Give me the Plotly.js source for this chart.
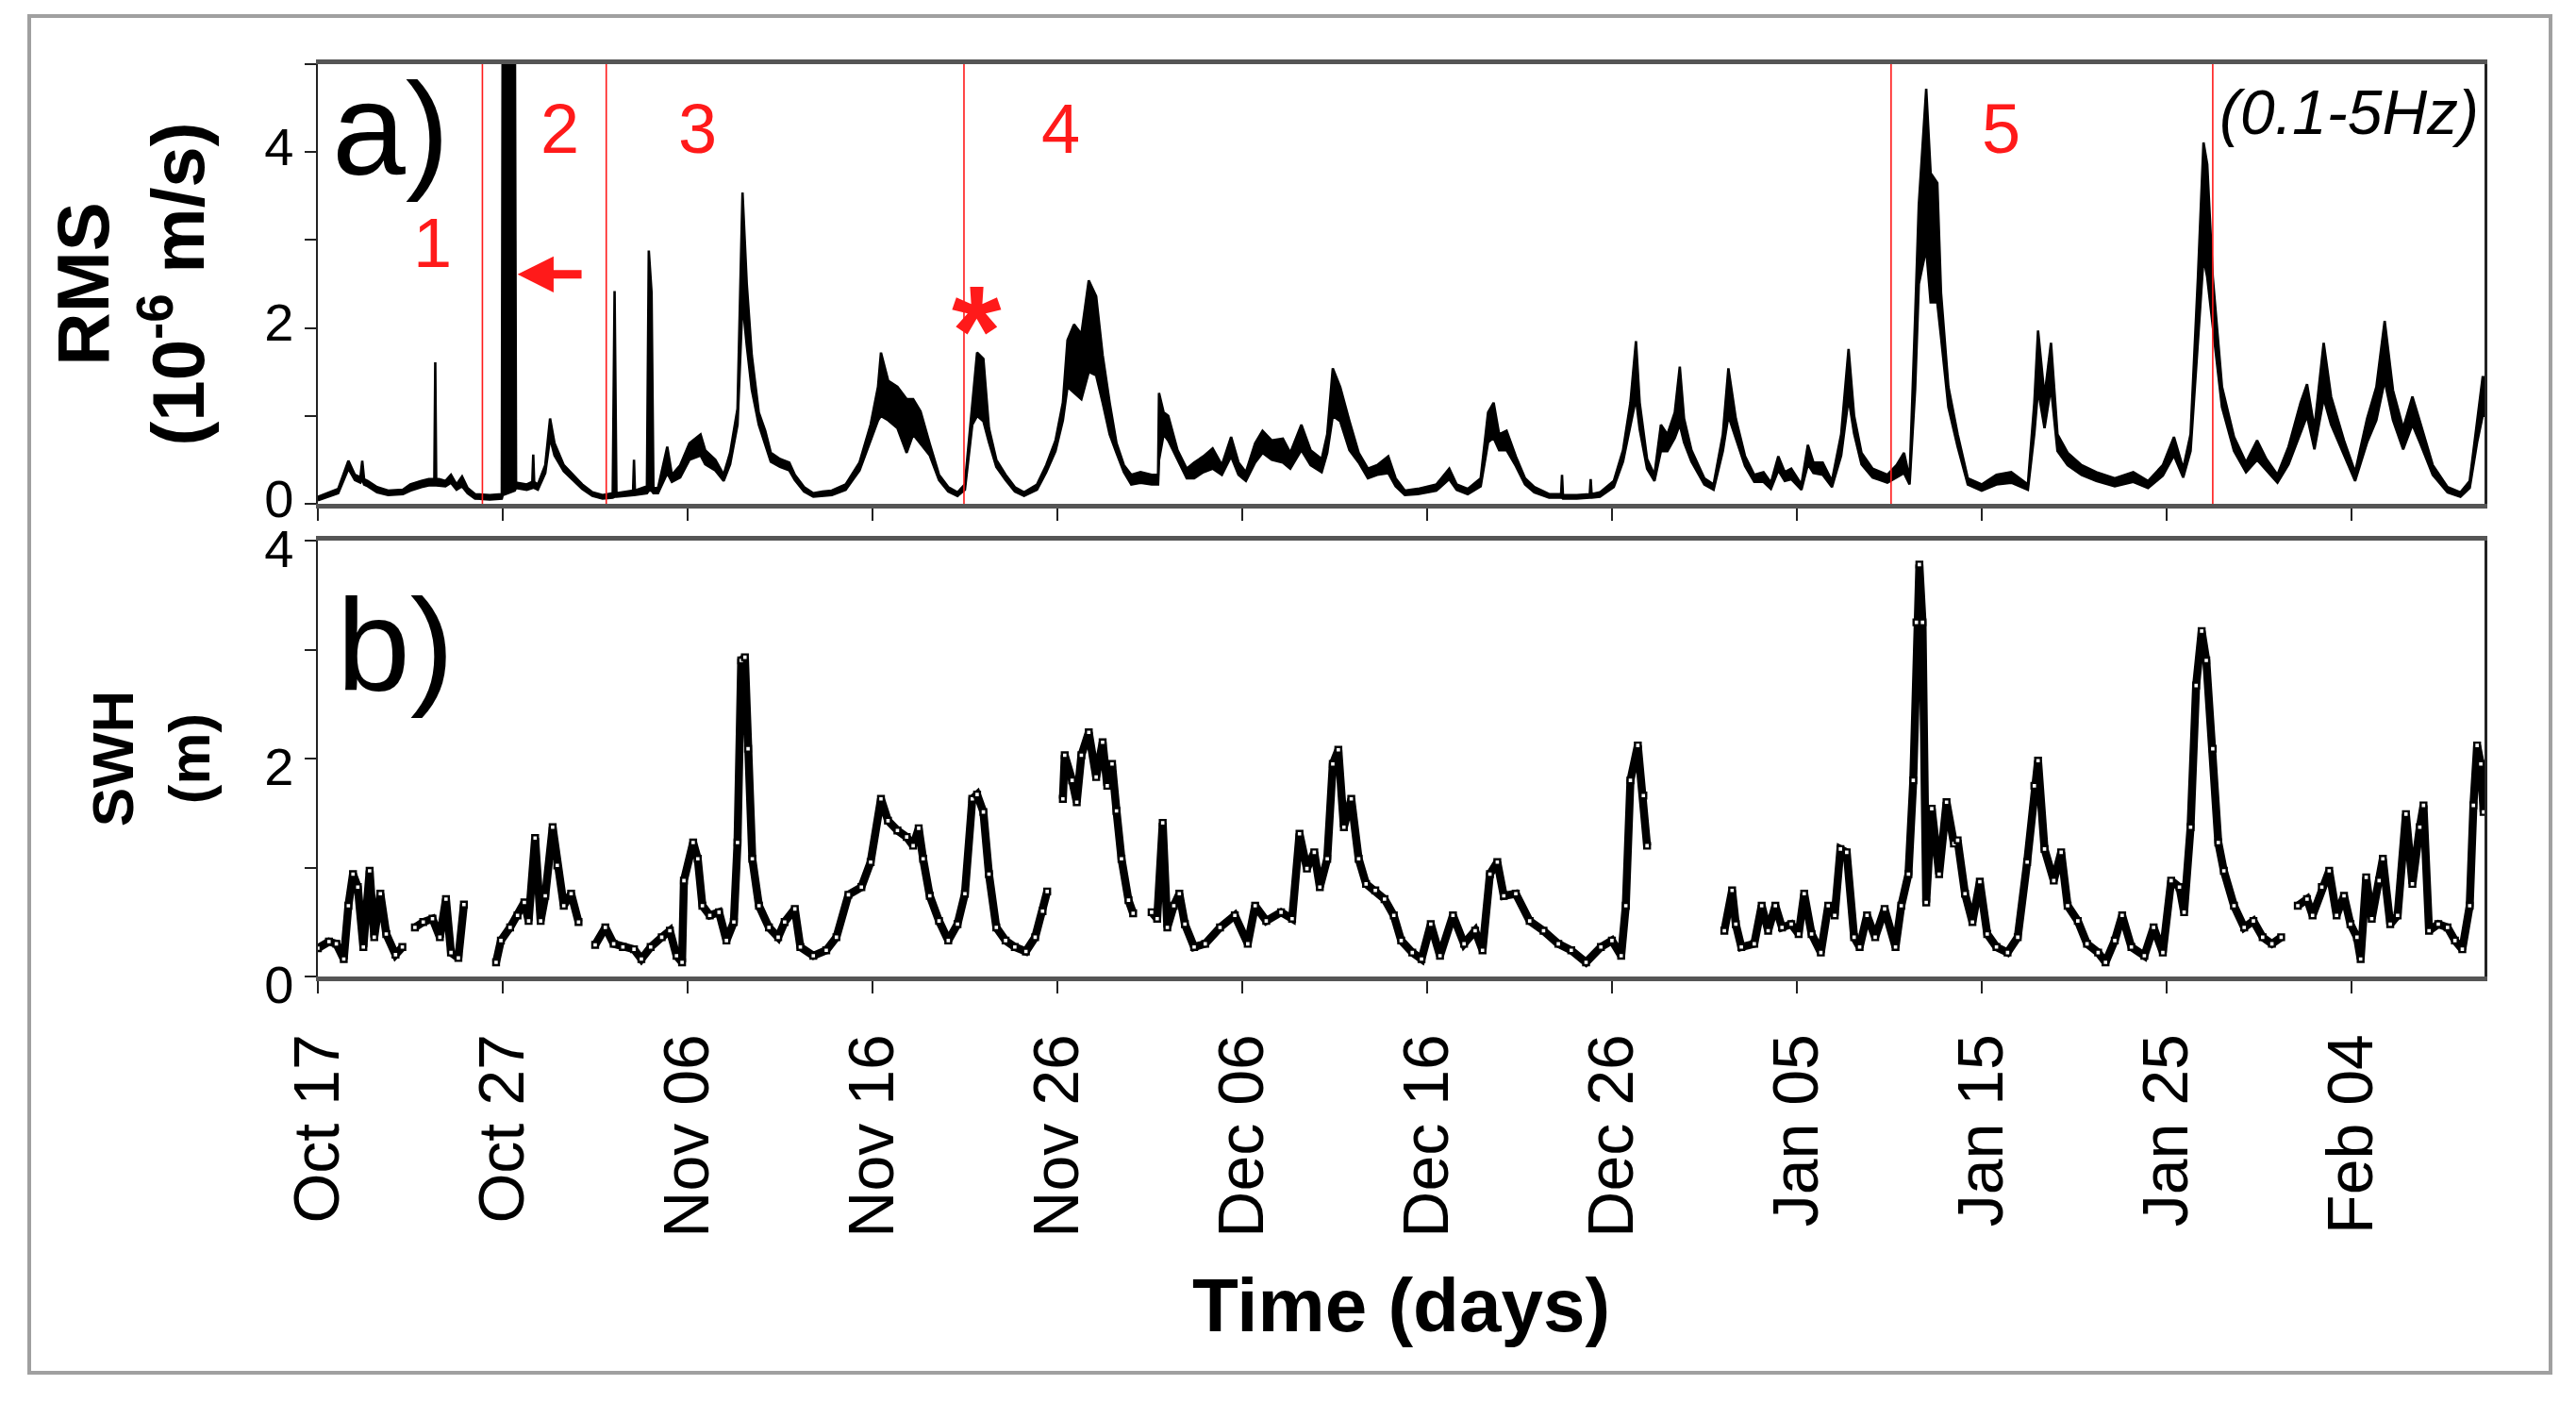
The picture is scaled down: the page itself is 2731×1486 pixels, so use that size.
<!DOCTYPE html>
<html>
<head>
<meta charset="utf-8">
<script src="https://cdn.plot.ly/plotly-3.0.1.min.js"></script>
<style>
  html, body { margin: 0; padding: 0; background: #ffffff; }
  #chart { width: 2731px; height: 1486px; }
</style>
</head>
<body>
<div id="chart"></div>
<script>
// ---------------- DATA (days counted from Oct 17) ----------------
const startDate = "2011-10-17";

// Panel a) RMS (10^-6 m/s), 0.1-5 Hz: upper / lower envelope of the dense trace
const rmsDays = [0.0,0.4,1.1,1.65,2.0,2.3,2.4,2.5,2.7,3.2,3.8,4.6,5.0,5.6,6.0,6.3,6.35,6.4,6.9,7.2,7.5,7.8,8.1,8.5,9.3,9.95,
  10.0,10.65,10.72,11.3,11.6,11.65,11.7,11.9,12.3,12.56,12.8,13.3,13.8,14.3,14.85,15.4,15.95,16.05,16.15,16.8,17.05,17.1,17.15,17.8,
  17.9,18.05,18.15,18.4,18.9,19.15,19.6,20.1,20.7,20.95,21.5,21.95,22.3,22.7,22.97,23.2,23.47,23.85,24.2,24.5,25.0,25.5,25.8,26.3,
  26.8,27.3,27.8,28.55,29.3,29.9,30.3,30.46,30.85,31.35,31.85,32.2,32.6,33.1,33.6,34.1,34.6,35.0,35.4,35.66,36.0,36.3,36.7,37.2,
  37.7,38.2,38.9,39.4,39.9,40.3,40.55,40.9,41.3,41.7,42.1,42.45,42.83,43.2,43.6,44.0,44.5,45.1,45.45,45.5,45.75,46.0,46.5,47.0,
  47.4,47.9,48.4,48.9,49.4,49.8,50.2,50.7,51.1,51.6,52.2,52.6,53.2,53.7,54.3,54.6,54.9,55.3,55.8,56.3,56.8,57.3,57.9,58.3,58.8,
  59.5,60.5,61.2,61.6,62.2,62.9,63.3,63.6,63.9,64.3,64.8,65.3,65.8,66.6,67.25,67.3,67.35,68.1,68.8,68.85,68.9,69.35,70.1,70.6,
  71.0,71.3,71.5,71.9,72.3,72.65,73.0,73.4,73.67,73.9,74.3,75.0,75.5,76.0,76.3,76.7,77.2,77.7,78.2,78.6,79.0,79.35,79.7,80.25,
  80.6,80.9,81.4,81.9,82.4,82.8,83.1,83.5,84.1,84.9,85.4,85.8,86.1,86.4,86.6,87.0,87.24,87.6,87.8,88.2,88.7,89.25,90.0,90.8,
  91.6,92.5,92.85,93.05,93.4,93.75,94.1,94.65,95.4,96.2,97.2,98.2,99.0,99.8,100.4,100.9,101.3,101.7,102.0,102.2,102.5,103.0,
  103.65,104.3,104.9,105.4,106.0,106.6,107.25,107.6,108.0,108.5,108.9,109.6,110.2,110.85,111.35,111.8,112.25,112.8,113.3,113.7,
  114.4,115.2,115.9,116.4,116.8,117.1,117.3];
const rmsUpper = [.08,.11,.17,.49,.33,.30,.49,.28,.26,.19,.15,.16,.22,.26,.28,.28,1.61,.29,.26,.33,.22,.31,.18,.11,.10,.11,
  6,6,.24,.22,.25,.56,.25,.22,.44,.97,.69,.44,.33,.22,.13,.10,.12,2.42,.12,.14,.15,.50,.15,.20,
  2.88,2.4,.18,.18,.65,.33,.44,.69,.79,.61,.50,.33,.58,1.08,3.54,2.5,1.69,1.04,.83,.58,.51,.47,.33,.19,
  .12,.14,.15,.22,.47,.90,1.33,1.72,1.40,1.33,1.19,1.19,1.05,.68,.33,.19,.13,.22,1.15,1.72,1.65,.86,.50,.33,
  .19,.13,.22,.44,.72,1.15,1.86,2.04,1.93,2.54,2.36,1.69,1.15,.69,.44,.33,.36,.33,.33,1.26,1.04,1.00,.61,.40,
  .47,.54,.63,.44,.76,.47,.36,.69,.83,.72,.74,.58,.90,.61,.51,.79,1.54,1.33,.94,.58,.40,.44,.54,.29,.15,
  .17,.22,.40,.22,.17,.29,1.04,1.15,.79,.83,.54,.29,.19,.11,.11,.33,.10,.10,.11,.28,.11,.13,.26,.61,
  1.15,1.85,1.15,.51,.33,.90,.79,1.04,1.56,.97,.61,.29,.22,.79,1.54,.97,.54,.33,.36,.24,.54,.36,.40,.22,
  .67,.47,.47,.26,.79,1.76,1.00,.58,.40,.33,.44,.58,.29,2.11,3.40,4.72,3.76,3.65,2.40,1.33,.79,.29,.22,.33,
  .36,.22,1.15,1.97,1.22,1.83,.79,.58,.44,.36,.29,.36,.26,.44,.76,.40,.79,2.58,4.11,3.86,2.58,1.33,
  .76,.47,.72,.51,.33,.65,1.15,1.36,.86,1.83,1.22,.72,.36,.97,1.33,2.08,1.29,.86,1.22,.94,
  .44,.19,.13,.26,.97,1.44,1.44];
const rmsLower = [.04,.07,.12,.40,.27,.24,.28,.22,.20,.13,.10,.11,.15,.19,.21,.21,.21,.21,.20,.24,.16,.20,.12,.06,.05,.06,
  .10,.15,.18,.16,.18,.25,.18,.16,.35,.75,.55,.37,.27,.17,.09,.06,.07,.08,.08,.09,.10,.12,.10,.12,
  .15,.15,.12,.12,.35,.25,.30,.50,.55,.45,.38,.26,.45,.90,2.3,1.8,1.3,.90,.68,.48,.42,.38,.27,.14,
  .08,.09,.10,.16,.38,.72,.95,1.00,.95,.86,.58,.79,.68,.55,.27,.14,.09,.16,.90,1.00,.94,.70,.42,.27,
  .14,.09,.16,.36,.60,.95,1.33,1.26,1.19,1.50,1.46,1.15,.79,.58,.36,.22,.24,.22,.22,.50,.79,.72,.50,.29,
  .29,.36,.40,.33,.54,.33,.26,.47,.58,.50,.47,.40,.61,.44,.36,.58,1.00,.94,.61,.47,.29,.33,.35,.20,.10,
  .11,.15,.28,.16,.11,.20,.70,.75,.61,.61,.43,.22,.13,.07,.07,.07,.06,.06,.07,.07,.07,.08,.19,.48,
  .90,1.20,.85,.40,.26,.60,.60,.75,.90,.70,.48,.22,.16,.60,1.00,.75,.43,.25,.25,.17,.38,.26,.28,.16,
  .45,.35,.33,.19,.55,1.20,.80,.45,.30,.24,.30,.35,.22,1.30,2.50,2.90,2.29,2.29,1.90,1.10,.65,.22,.15,.22,
  .24,.16,.80,1.30,.86,1.33,.60,.44,.33,.26,.20,.25,.18,.32,.55,.30,.60,1.80,2.80,2.58,2.04,1.10,
  .60,.36,.50,.38,.24,.45,.80,1.00,.62,1.20,.90,.55,.26,.70,.95,1.40,.95,.62,.90,.70,
  .33,.13,.08,.18,.70,1.00,1.00];

// Panel b) SWH (m); null = no data
const swhDays = [0,0.6,1.0,1.4,1.65,1.9,2.16,2.46,2.8,3.05,3.38,3.7,4.2,4.57,null,
  5.25,5.7,6.2,6.6,6.93,7.2,7.6,7.9,null,
  9.64,9.9,10.4,10.8,11.17,11.4,11.75,12.05,12.3,12.7,12.95,13.3,13.7,14.1,null,
  15.0,15.55,16.0,16.5,17.1,17.5,18.0,18.6,19.04,19.4,19.7,19.8,20.3,20.55,20.8,21.2,21.7,22.1,22.5,22.7,22.9,23.1,23.27,23.5,
  23.86,24.4,24.9,25.25,25.8,26.1,26.8,27.5,28.05,28.7,29.4,29.9,30.46,30.84,31.35,31.85,32.2,32.5,32.74,33.1,33.6,34.1,34.6,
  35.0,35.4,35.66,36.0,36.3,36.7,37.2,37.7,38.3,38.8,39.2,39.45,null,
  40.3,40.4,40.8,41.05,41.3,41.7,42.1,42.45,42.7,42.96,43.2,43.47,43.85,44.1,null,
  45.1,45.4,45.7,45.95,46.3,46.6,46.9,47.4,48.0,48.8,49.6,50.3,50.7,51.3,52.1,52.7,53.1,53.5,53.9,54.2,54.6,54.9,55.2,55.5,
  55.9,56.3,56.7,57.2,57.7,58.2,58.6,59.2,59.7,60.2,60.7,61.4,62.0,62.6,63.0,63.4,63.8,64.15,64.8,65.55,66.3,67.1,67.8,68.6,
  69.4,70.0,70.5,70.75,71.0,71.4,71.7,71.9,null,
  76.08,76.5,76.7,77.0,77.7,78.1,78.45,78.84,79.2,79.7,80.1,80.4,80.8,81.3,81.7,82.05,82.36,82.7,83.1,83.4,83.8,84.24,84.75,
  85.34,85.65,86.04,86.3,86.47,86.63,86.8,87.0,87.3,87.7,88.1,88.5,88.7,89.1,89.5,89.9,90.3,90.8,91.4,91.95,92.46,92.85,
  93.05,93.4,93.9,94.3,94.65,95.2,95.7,96.3,96.7,97.2,97.6,98.1,98.8,99.3,99.8,100.25,100.7,100.95,101.3,101.6,101.9,102.15,
  102.5,102.8,103.1,103.65,104.2,104.7,105.2,105.7,106.2,null,
  107.1,107.6,107.9,108.4,108.8,109.2,109.6,109.95,110.3,110.5,110.8,111.1,111.5,111.7,112.1,112.5,112.95,113.3,113.7,113.9,
  114.2,114.7,115.2,115.6,116.0,116.4,116.6,116.8,117.0,117.15];
const swhValues = [.26,.32,.30,.16,.65,.94,.82,.27,.97,.36,.76,.39,.20,.27,null,
  .45,.50,.53,.36,.71,.22,.17,.66,null,
  .13,.33,.45,.56,.68,.51,1.27,.51,.74,1.37,1.02,.65,.76,.50,null,
  .29,.45,.30,.27,.25,.16,.27,.36,.42,.19,.13,.88,1.23,1.08,.65,.56,.59,.33,.50,1.23,2.90,2.93,2.09,1.08,
  .65,.45,.36,.50,.62,.27,.19,.24,.36,.75,.82,1.05,1.63,1.43,1.34,1.28,1.20,1.36,1.08,.74,.51,.33,.48,
  .76,1.63,1.67,1.51,.94,.45,.33,.27,.23,.36,.60,.78,null,
  1.63,2.03,1.80,1.60,2.03,2.24,1.83,2.15,1.75,1.95,1.52,1.08,.70,.58,null,
  .59,.53,1.41,.45,.65,.76,.48,.27,.30,.45,.56,.30,.65,.51,.59,.53,1.31,.99,1.14,.82,1.08,1.95,2.08,1.37,
  1.63,1.08,.85,.79,.71,.56,.33,.22,.16,.48,.19,.56,.30,.42,.24,.94,1.05,.74,.76,.51,.42,.30,.24,.13,
  .27,.33,.19,.65,1.80,2.12,1.66,1.20,null,
  .42,.79,.48,.27,.30,.65,.42,.65,.45,.48,.39,.76,.39,.22,.65,.56,1.17,1.14,.36,.27,.56,.36,.62,
  .27,.65,.94,1.80,3.25,3.78,3.25,.68,1.54,.94,1.60,1.22,1.25,.76,.50,.87,.39,.27,.22,.36,1.05,1.75,
  1.98,1.17,.88,1.14,.65,.51,.30,.22,.13,.33,.56,.27,.19,.45,.22,.88,.82,.59,1.37,2.67,3.17,2.90,
  2.09,1.23,.97,.65,.45,.51,.36,.30,.36,null,
  .65,.71,.56,.82,.97,.56,.74,.48,.36,.16,.91,.53,.88,1.08,.48,.56,1.49,.85,1.37,1.57,
  .42,.48,.45,.33,.25,.65,1.57,2.12,1.95,1.51];

// Period boundaries (red lines) and labels
const periodLineDays = [8.9, 15.6, 34.95, 85.1, 102.5];
const periodLabels = ["1", "2", "3", "4", "5"];
const periodLabelDays = [6.2, 13.07, 20.56, 40.17, 91.05];
const periodLabelValues = [2.97, 4.26, 4.26, 4.26, 4.26];

// Axis tick settings
const xEndDay = 117.2;
const xTickStepDays = 10;
const rmsTickVals = [0, 2, 4];
const swhTickVals = [0, 2, 4];
const minorTickStep = 1;

// ---------------- helpers ----------------
const DAY_MS = 86400000;
const startMs = Date.parse(startDate + "T00:00:00Z");
function toDate(d) {
  if (d === null || d === undefined) return null;
  return new Date(startMs + d * DAY_MS).toISOString().slice(0, 19).replace("T", " ");
}

// ---------------- geometry (pixels) ----------------
const W = 2731, H = 1486;
const plotL = 337, plotR = 2634, plotT = 68, plotB = 1035;
const margin = { l: plotL, r: W - plotR, t: plotT, b: H - plotB };
const plotW = plotR - plotL, plotH = plotB - plotT;
const py = Y => (plotB - Y) / plotH;  // pixel row -> paper y
const px = X => (X - plotL) / plotW;  // pixel col -> paper x

const FONT = "Liberation Sans, Arial, Helvetica, sans-serif";
const RED = "#ff1a1a";

// ---------------- traces ----------------
const traces = [
  { x: rmsDays.map(toDate), y: rmsLower, xaxis: "x2", yaxis: "y2", type: "scatter", mode: "lines",
    line: { color: "#000", width: 2.6 }, hoverinfo: "skip" },
  { x: rmsDays.map(toDate), y: rmsUpper, xaxis: "x2", yaxis: "y2", type: "scatter", mode: "lines",
    fill: "tonexty", fillcolor: "#000", line: { color: "#000", width: 2.6 }, hoverinfo: "skip" },
  { x: swhDays.map(toDate), y: swhValues, xaxis: "x", yaxis: "y", type: "scatter", mode: "lines+markers",
    connectgaps: false, line: { color: "#000", width: 8.5 },
    marker: { symbol: "square", size: 6, color: "#fff", line: { color: "#000", width: 2.4 } }, hoverinfo: "skip" }
];

// ---------------- layout ----------------
const commonX = {
  type: "date",
  range: [toDate(0), toDate(xEndDay)],
  tick0: toDate(0),
  dtick: xTickStepDays * DAY_MS,
  ticks: "outside", ticklen: 13, tickwidth: 2.5, tickcolor: "#222",
  showline: true, linewidth: 5, linecolor: "#555", mirror: true,
  showgrid: false, zeroline: false
};
const commonY = {
  tickmode: "array",
  ticks: "outside", ticklen: 12, tickwidth: 2, tickcolor: "#222",
  minor: { dtick: minorTickStep, ticks: "outside", ticklen: 12, tickwidth: 2, tickcolor: "#222", showgrid: false },
  showline: true, linewidth: 2.5, linecolor: "#222", mirror: true,
  showgrid: false, zeroline: false,
  tickfont: { size: 56, color: "#000", family: FONT }
};

const annotations = [
  { xref: "x2", yref: "y2", x: toDate(3.93), y: 4.26, text: "a)", showarrow: false,
    font: { size: 140, color: "#000", family: FONT } },
  { xref: "x", yref: "y", x: toDate(4.19), y: 3.04, text: "b)", showarrow: false,
    font: { size: 140, color: "#000", family: FONT } },
  { xref: "x2", yref: "y2", x: toDate(109.9), y: 4.45, text: "<i>(0.1-5Hz)</i>", showarrow: false,
    font: { size: 66, color: "#000", family: FONT } },
  { xref: "x2", yref: "y2", x: toDate(35.66), y: 2.29, text: "<b>*</b>", showarrow: false, yshift: -30,
    font: { size: 135, color: RED, family: FONT } },
  { xref: "x2", yref: "y2", axref: "x2", ayref: "y2", x: toDate(10.8), y: 2.61, ax: toDate(14.34), ay: 2.61,
    text: "", showarrow: true, arrowhead: 2, arrowsize: 0.85, arrowwidth: 9, arrowcolor: RED, standoff: 0 }
];
periodLabels.forEach((t, i) => {
  annotations.push({ xref: "x2", yref: "y2", x: toDate(periodLabelDays[i]), y: periodLabelValues[i], text: t,
    showarrow: false, font: { size: 74, color: RED, family: FONT } });
});

const shapes = periodLineDays.map(d => ({
  type: "line", xref: "x2", yref: "y2 domain", x0: toDate(d), x1: toDate(d), y0: 0, y1: 1,
  line: { color: RED, width: 1.6 }, layer: "above"
}));
shapes.push({
  type: "rect", xref: "paper", yref: "paper",
  x0: px(31), x1: px(2704), y0: py(1455), y1: py(17),
  line: { color: "#a0a0a0", width: 4 }, fillcolor: "rgba(0,0,0,0)", layer: "below"
});

const layout = {
  width: W, height: H, margin: margin,
  paper_bgcolor: "#fff", plot_bgcolor: "#fff",
  showlegend: false,
  font: { family: FONT, color: "#000" },
  xaxis: Object.assign({}, commonX, {
    anchor: "y", tickformat: "%b %d", tickangle: -90,
    tickfont: { size: 68, color: "#000", family: FONT }, ticklabelstandoff: 16,
    title: { text: "<b>Time (days)</b>", font: { size: 80, color: "#000", family: FONT }, standoff: 46 }
  }),
  xaxis2: Object.assign({}, commonX, { anchor: "y2", matches: "x", showticklabels: false }),
  yaxis: Object.assign({}, commonY, {
    domain: [0, py(573)], range: [0, 4], tickvals: swhTickVals, anchor: "x", ticklabelshift: 8,
    title: { text: "<b>SWH</b><br><b>(m)</b>", font: { size: 62, color: "#000", family: FONT }, standoff: 38 }
  }),
  yaxis2: Object.assign({}, commonY, {
    domain: [py(534), 1], range: [0, 5], tickvals: rmsTickVals, anchor: "x2", ticklabelshift: -6,
    title: { text: "<b>RMS</b><br><b>(10<sup>-6</sup> m/s)</b>", font: { size: 78, color: "#000", family: FONT }, standoff: 38 }
  }),
  annotations: annotations,
  shapes: shapes
};

Plotly.newPlot("chart", traces, layout, { staticPlot: true, displayModeBar: false });
</script>
</body>
</html>
